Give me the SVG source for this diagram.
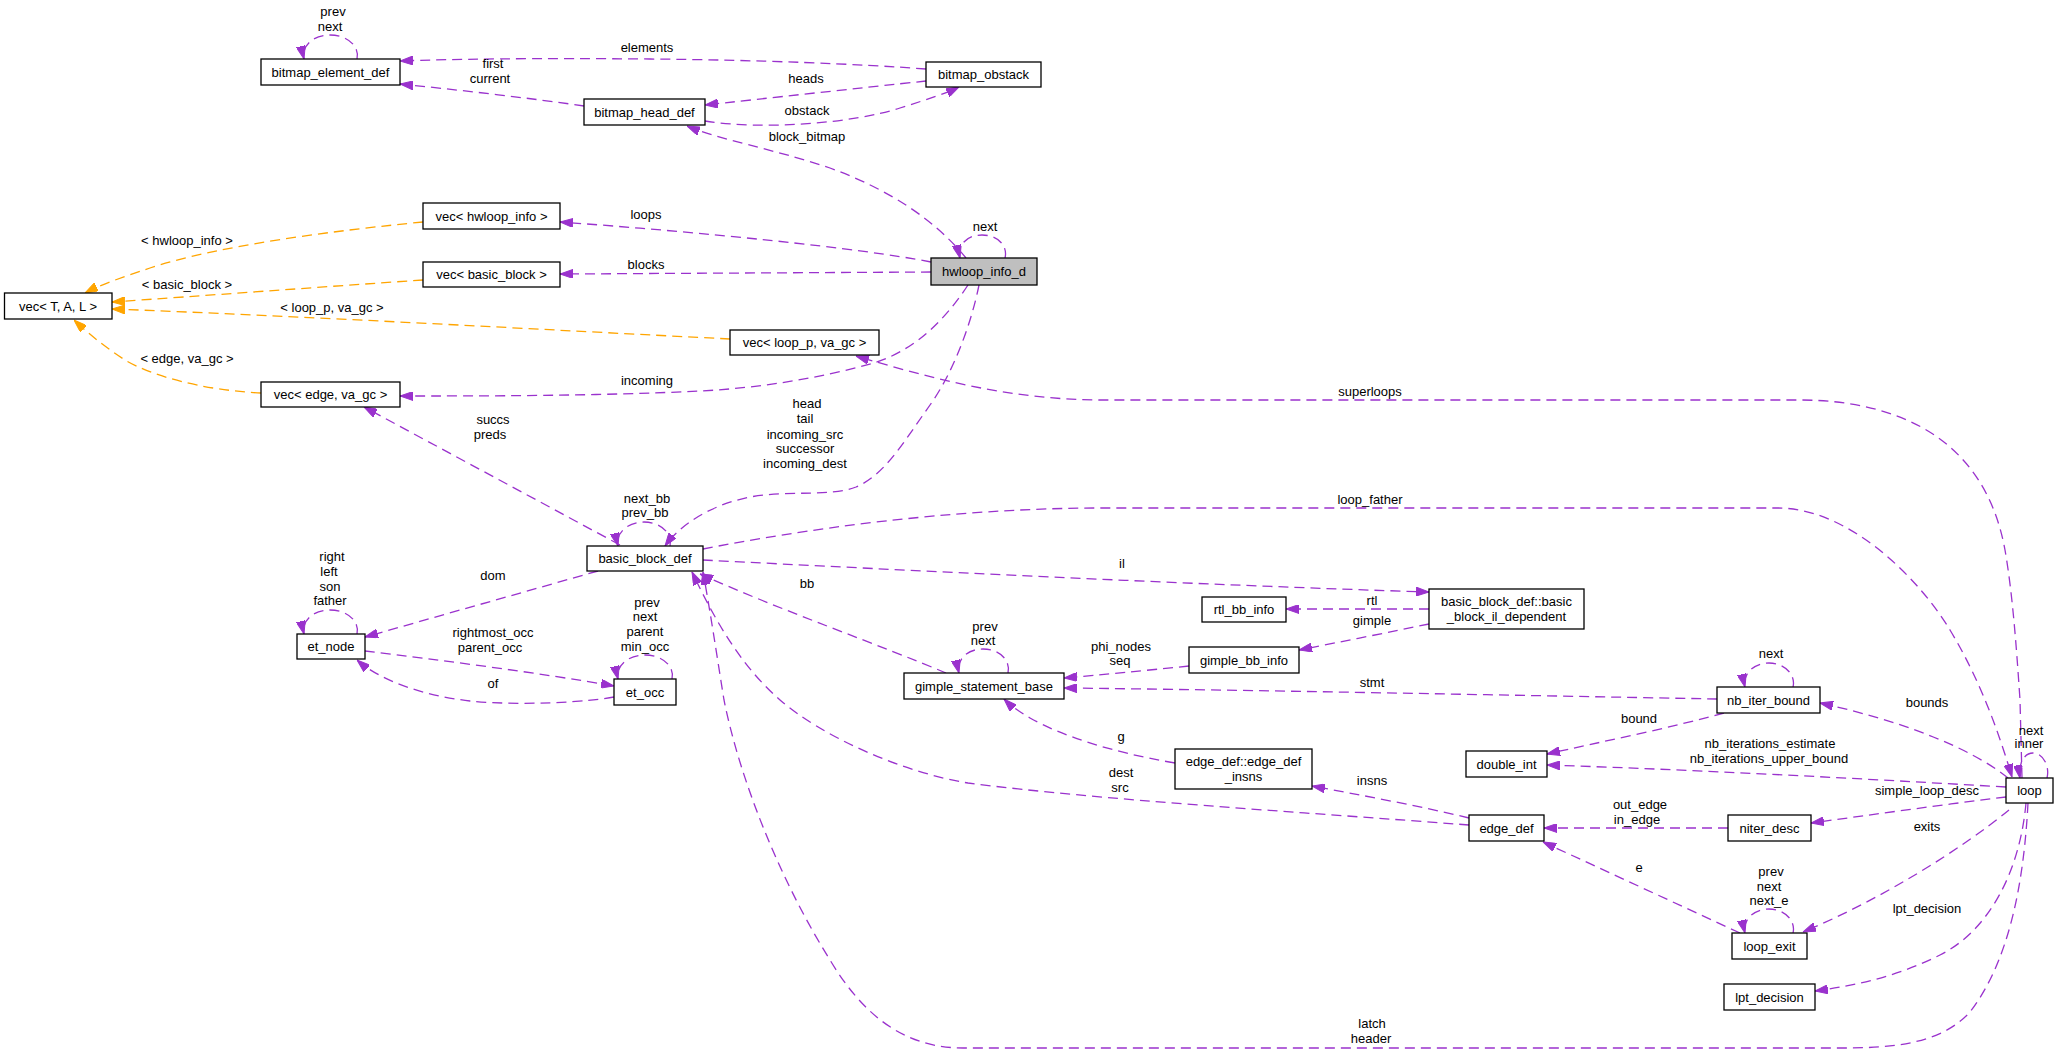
<svg xmlns="http://www.w3.org/2000/svg" width="2059" height="1054" viewBox="0 0 2059 1054">
<style>
.n rect{fill:#fff;stroke:#000;stroke-width:1.3}
.n.g rect{fill:#bfbfbf}
text{font-family:"Liberation Sans",Arial,Helvetica,sans-serif;font-size:13px;text-anchor:middle;fill:#000}
.e path{fill:none;stroke:#9a32cd;stroke-width:1.3;stroke-dasharray:10,6;marker-end:url(#ap)}
.e path.o{stroke:#ffa500;marker-end:url(#ao)}
</style>
<defs>
<marker id="ap" viewBox="0 0 13 9" refX="13" refY="4.5" markerWidth="13" markerHeight="9" markerUnits="userSpaceOnUse" orient="auto"><path d="M0,0L13,4.5L0,9z" fill="#9a32cd" stroke="#9a32cd"/></marker>
<marker id="ao" viewBox="0 0 13 9" refX="13" refY="4.5" markerWidth="13" markerHeight="9" markerUnits="userSpaceOnUse" orient="auto"><path d="M0,0L13,4.5L0,9z" fill="#ffa500" stroke="#ffa500"/></marker>
</defs>
<rect width="2059" height="1054" fill="#fff"/>
<g class="e" id="edges">
<!-- self loops -->
<path d="M357,59C360,47 348,35 330,35C312,35 301,47 304,59"/>
<path d="M1005,258C1008,246 998,235 982,235C966,235 957,246 960,258"/>
<path d="M670,546C673,534 661,522 644,522C627,522 615,534 618,546"/>
<path d="M357,634C360,622 348,610 330,610C312,610 301,622 304,634"/>
<path d="M672,679C675,667 663,655 645,655C627,655 615,667 618,679"/>
<path d="M1008,673C1011,661 1000,649 983,649C966,649 956,661 959,673"/>
<path d="M1793,687C1796,675 1785,663 1769,663C1753,663 1742,675 1745,687"/>
<path d="M1793,933C1796,921 1785,909 1769,909C1753,909 1742,921 1745,933"/>
<path d="M2047,778C2050,766 2043,753 2033,753C2023,753 2018,766 2020,778"/>
<!-- bitmap -->
<path d="M926,69C860,64 760,60 650,59C540,58 450,59 400,61"/>
<path d="M584,106C530,98 450,89 400,84"/>
<path d="M926,81C860,88 760,99 705,105"/>
<path d="M705,121C760,130 850,124 900,108C925,100 945,94 959,87"/>
<path d="M966,258C935,220 890,190 830,168C770,148 720,140 687,126"/>
<!-- hwloop -->
<path d="M931,262C860,248 700,232 560,222"/>
<path d="M931,272L560,274"/>
<path d="M968,285C945,320 915,350 874,363C820,378 760,388 700,391C600,396 480,396 400,396"/>
<path d="M979,285C972,320 955,370 930,405C905,440 885,475 856,487C830,497 790,490 750,497C710,505 680,525 665,546"/>
<!-- templates -->
<path class="o" d="M730,339C550,330 300,316 112,309"/>
<path class="o" d="M423,222C340,230 220,245 150,268C120,278 100,285 85,293"/>
<path class="o" d="M423,280C320,287 200,296 112,302"/>
<path class="o" d="M261,393C200,390 150,375 125,360C105,347 90,335 74,320"/>
<!-- basic_block_def -->
<path d="M620,545L364,407"/>
<path d="M598,571L365,637"/>
<path d="M365,651C440,660 540,673 614,686"/>
<path d="M614,697C590,702 520,706 470,701C420,695 380,680 357,660"/>
<path d="M946,673C880,645 780,610 700,574"/>
<path d="M703,560C900,570 1200,585 1429,592"/>
<path d="M703,549C800,530 950,508 1102,508L1778,508C1850,508 1920,580 1950,630C1980,680 1998,730 2012,777"/>
<path d="M2022,778L2020,700C2016,640 2012,590 2005,550C1985,440 1900,400 1799,400L1102,400C1010,400 930,378 856,356"/>
<path d="M1429,609L1286,609"/>
<path d="M1429,624C1390,632 1340,642 1299,650"/>
<path d="M1189,666C1140,671 1100,675 1064,678"/>
<path d="M1717,699C1500,695 1250,690 1064,688"/>
<path d="M1175,763C1110,752 1060,735 1030,718C1018,711 1010,705 1004,699"/>
<path d="M1469,825C1300,812 1100,800 968,783C900,772 820,735 780,700C740,665 715,620 692,572"/>
<path d="M1469,818C1420,806 1360,795 1312,786"/>
<path d="M2028,803C2024,880 2010,960 1970,1012C1940,1045 1890,1048 1841,1048L963,1048C900,1048 860,1010 830,960C780,880 740,780 724,700C716,650 710,610 703,572"/>
<!-- loop -->
<path d="M2008,778C1980,755 1920,725 1820,703"/>
<path d="M2006,787C1850,778 1700,770 1547,765"/>
<path d="M2006,797C1940,805 1870,815 1811,823"/>
<path d="M1728,828L1544,828"/>
<path d="M1740,933L1543,842"/>
<path d="M2009,810C1960,850 1880,900 1803,932"/>
<path d="M2026,803C2020,870 1990,930 1940,955C1900,975 1860,985 1815,991"/>
<path d="M1724,713C1670,728 1600,742 1547,754"/>
</g>
<g id="labels">
<text x="333" y="16">prev</text><text x="330" y="31">next</text>
<text x="647" y="52">elements</text>
<text x="493" y="68">first</text><text x="490" y="83">current</text>
<text x="806" y="83">heads</text>
<text x="807" y="115">obstack</text>
<text x="807" y="141">block_bitmap</text>
<text x="985" y="231">next</text>
<text x="646" y="219">loops</text>
<text x="646" y="269">blocks</text>
<text x="187" y="245">&lt; hwloop_info &gt;</text>
<text x="187" y="289">&lt; basic_block &gt;</text>
<text x="332" y="312">&lt; loop_p, va_gc &gt;</text>
<text x="187" y="363">&lt; edge, va_gc &gt;</text>
<text x="647" y="385">incoming</text>
<text x="493" y="424">succs</text><text x="490" y="439">preds</text>
<text x="647" y="503">next_bb</text><text x="645" y="517">prev_bb</text>
<text x="493" y="580">dom</text>
<text x="332" y="561">right</text><text x="329" y="576">left</text><text x="330" y="591">son</text><text x="330" y="605">father</text>
<text x="493" y="637">rightmost_occ</text><text x="490" y="652">parent_occ</text>
<text x="647" y="607">prev</text><text x="645" y="621">next</text><text x="645" y="636">parent</text><text x="645" y="651">min_occ</text>
<text x="493" y="688">of</text>
<text x="1370" y="396">superloops</text>
<text x="807" y="408">head</text><text x="805" y="423">tail</text><text x="805" y="439">incoming_src</text><text x="805" y="453">successor</text><text x="805" y="468">incoming_dest</text>
<text x="1370" y="504">loop_father</text>
<text x="1122" y="568">il</text>
<text x="807" y="588">bb</text>
<text x="1372" y="605">rtl</text>
<text x="1372" y="625">gimple</text>
<text x="985" y="631">prev</text><text x="983" y="645">next</text>
<text x="1121" y="651">phi_nodes</text><text x="1120" y="665">seq</text>
<text x="1372" y="687">stmt</text>
<text x="1771" y="658">next</text>
<text x="1121" y="741">g</text>
<text x="1121" y="777">dest</text><text x="1120" y="792">src</text>
<text x="1372" y="785">insns</text>
<text x="1372" y="1028">latch</text><text x="1371" y="1043">header</text>
<text x="1927" y="707">bounds</text>
<text x="1639" y="723">bound</text>
<text x="1770" y="748">nb_iterations_estimate</text><text x="1769" y="763">nb_iterations_upper_bound</text>
<text x="2031" y="735">next</text><text x="2029" y="748">inner</text>
<text x="1927" y="795">simple_loop_desc</text>
<text x="1640" y="809">out_edge</text><text x="1637" y="824">in_edge</text>
<text x="1927" y="831">exits</text>
<text x="1639" y="872">e</text>
<text x="1771" y="876">prev</text><text x="1769" y="891">next</text><text x="1769" y="905">next_e</text>
<text x="1927" y="913">lpt_decision</text>
</g>
<g class="n" id="bitmap_element_def"><rect x="261" y="59" width="139" height="26"/><text x="330.5" y="76.5">bitmap_element_def</text></g>
<g class="n" id="bitmap_head_def"><rect x="584" y="99" width="121" height="26"/><text x="644.5" y="116.5">bitmap_head_def</text></g>
<g class="n" id="bitmap_obstack"><rect x="926" y="62" width="115" height="25"/><text x="983.5" y="79">bitmap_obstack</text></g>
<g class="n" id="vec_hwloop_info"><rect x="423" y="203" width="137" height="26"/><text x="491.5" y="220.5">vec&lt; hwloop_info &gt;</text></g>
<g class="n" id="vec_basic_block"><rect x="423" y="262" width="137" height="25"/><text x="491.5" y="279">vec&lt; basic_block &gt;</text></g>
<g class="n g" id="hwloop_info_d"><rect x="931" y="258" width="106" height="27"/><text x="984" y="276">hwloop_info_d</text></g>
<g class="n" id="vec_T_A_L"><rect x="4.5" y="293" width="107.5" height="26"/><text x="58" y="310.5">vec&lt; T, A, L &gt;</text></g>
<g class="n" id="vec_loop_p_va_gc"><rect x="730" y="330" width="149" height="25"/><text x="804.5" y="347">vec&lt; loop_p, va_gc &gt;</text></g>
<g class="n" id="vec_edge_va_gc"><rect x="261" y="382" width="139" height="25"/><text x="330.5" y="399">vec&lt; edge, va_gc &gt;</text></g>
<g class="n" id="basic_block_def"><rect x="587" y="546" width="116" height="25"/><text x="645" y="563">basic_block_def</text></g>
<g class="n" id="et_node"><rect x="297" y="634" width="68" height="25"/><text x="331" y="651">et_node</text></g>
<g class="n" id="et_occ"><rect x="614" y="679" width="62" height="26"/><text x="645" y="696.5">et_occ</text></g>
<g class="n" id="rtl_bb_info"><rect x="1202" y="597" width="84" height="25"/><text x="1244" y="614">rtl_bb_info</text></g>
<g class="n" id="basic_block_il_dependent"><rect x="1429" y="589" width="155" height="40"/><text x="1506.5" y="605.5">basic_block_def::basic</text><text x="1506.5" y="620.5">_block_il_dependent</text></g>
<g class="n" id="gimple_bb_info"><rect x="1189" y="647" width="110" height="26"/><text x="1244" y="664.5">gimple_bb_info</text></g>
<g class="n" id="gimple_statement_base"><rect x="904" y="673" width="160" height="26"/><text x="984" y="690.5">gimple_statement_base</text></g>
<g class="n" id="nb_iter_bound"><rect x="1717" y="687" width="103" height="26"/><text x="1768.5" y="704.5">nb_iter_bound</text></g>
<g class="n" id="double_int"><rect x="1466" y="751" width="81" height="26"/><text x="1506.5" y="768.5">double_int</text></g>
<g class="n" id="edge_def_insns"><rect x="1175" y="749" width="137" height="40"/><text x="1243.5" y="765.5">edge_def::edge_def</text><text x="1243.5" y="780.5">_insns</text></g>
<g class="n" id="loop"><rect x="2006" y="778" width="47" height="25"/><text x="2029.5" y="795">loop</text></g>
<g class="n" id="edge_def"><rect x="1469" y="815" width="75" height="26"/><text x="1506.5" y="832.5">edge_def</text></g>
<g class="n" id="niter_desc"><rect x="1728" y="815" width="83" height="26"/><text x="1769.5" y="832.5">niter_desc</text></g>
<g class="n" id="loop_exit"><rect x="1732" y="933" width="75" height="26"/><text x="1769.5" y="950.5">loop_exit</text></g>
<g class="n" id="lpt_decision"><rect x="1724" y="984" width="91" height="26"/><text x="1769.5" y="1001.5">lpt_decision</text></g>
</svg>
